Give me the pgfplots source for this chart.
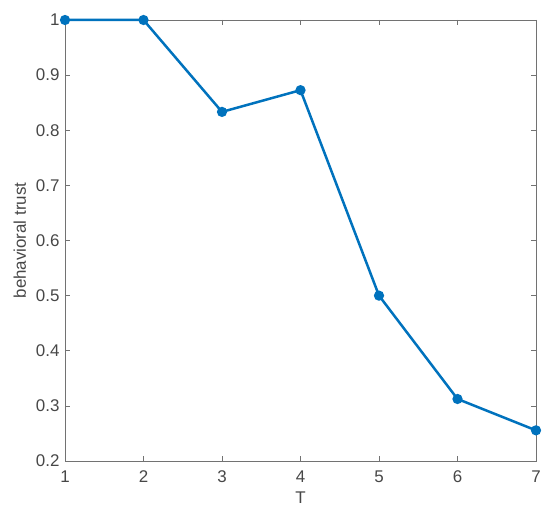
\documentclass[border=0pt]{standalone}
\usepackage{fontspec}
\setmainfont{Liberation Sans}
\usepackage{pgfplots}
\pgfplotsset{compat=1.18}
\definecolor{mblue}{rgb}{0,0.447,0.741}
\definecolor{axgray}{rgb}{0.15,0.15,0.15}
\begin{document}
\begin{tikzpicture}
\begin{axis}[
  scale only axis,
  width=471bp, height=441bp,
  xmin=1, xmax=7, ymin=0.2, ymax=1,
  xtick={1,2,3,4,5,6,7},
  ytick={0.2,0.3,0.4,0.5,0.6,0.7,0.8,0.9,1},
  yticklabels={0.2,0.3,0.4,0.5,0.6,0.7,0.8,0.9,1},
  tick align=inside,
  major tick length=5bp,
  axis line style={draw=axgray!65, line width=0.7bp},
  tick style={draw=axgray!65, line width=0.7bp},
  tick label style={font=\fontsize{17}{20}\selectfont, text=axgray!85},
  label style={font=\fontsize{17}{20}\selectfont, text=axgray!85},
  xticklabel style={yshift=-6bp},
  yticklabel style={xshift=-2bp},
  /pgf/number format/assume math mode=true,
  xlabel={T},
  ylabel={behavioral trust},
  xlabel style={yshift=-2bp},
  ylabel style={yshift=3bp},
  clip=false,
]
\addplot[color=mblue, line width=2.5bp, mark=*, mark size=3.8bp, mark options={solid, fill=mblue}]
coordinates {(1,1) (2,1) (3,0.8333) (4,0.8727) (5,0.5) (6,0.3125) (7,0.2556)};
\end{axis}
\path (current axis.south west) ++(-65bp,-61bp) coordinate (a);
\path (current axis.north east) ++(14bp,20bp) coordinate (b);
\path[use as bounding box] (a) rectangle (b);
\end{tikzpicture}
\end{document}
